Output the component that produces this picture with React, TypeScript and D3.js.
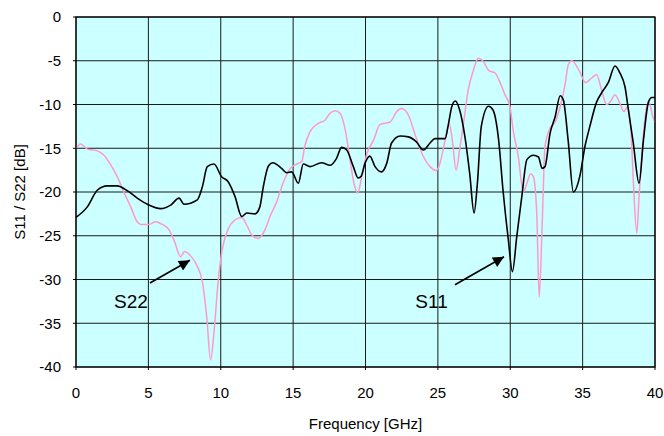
import React from "react"
import * as d3 from "d3"

// S11 (black) trace, frequency in GHz and level in dB
const s11Freq = [0, 0.78, 1.47, 2.16, 2.85, 3.54, 4.23, 4.93, 5.85, 6.54, 7.12, 7.46, 8.38, 8.73, 9.07, 9.53, 10.06, 10.5, 10.98, 11.45, 11.8, 12.37, 12.7, 12.94, 13.3, 13.6, 14.2, 14.56, 14.9, 15.36, 15.7, 16.17, 16.97, 17.55, 18.0, 18.35, 18.7, 19.16, 19.5, 19.7, 19.97, 20.3, 20.66, 21.1, 21.47, 21.8, 22.4, 22.96, 23.5, 24.0, 24.46, 24.8, 25.5, 25.7, 25.96, 26.2, 26.5, 26.87, 27.2, 27.5, 27.73, 28.0, 28.5, 28.8, 29.2, 29.5, 29.87, 30.15, 30.45, 30.8, 31.15, 31.6, 31.95, 32.2, 32.4, 32.75, 33.1, 33.45, 33.67, 34.0, 34.36, 34.8, 35.16, 35.5, 35.97, 36.3, 36.77, 37.24, 37.58, 37.93, 38.16, 38.5, 38.9, 39.2, 39.55, 39.78, 40]
const s11Db = [-22.9, -21.7, -19.8, -19.3, -19.3, -19.85, -20.7, -21.4, -21.9, -21.5, -20.7, -21.4, -20.9, -19.4, -17.1, -16.8, -18.25, -18.8, -20.5, -22.8, -22.4, -22.5, -21.7, -19.4, -17.0, -16.65, -17.3, -17.8, -17.7, -19.0, -16.8, -17.1, -16.65, -16.95, -16.15, -14.9, -15.2, -17.1, -18.4, -18.2, -16.7, -15.9, -17.1, -17.7, -16.7, -14.4, -13.6, -13.7, -14.25, -15.2, -14.4, -13.9, -13.9, -12.5, -10.25, -9.6, -10.6, -13.7, -17.9, -22.4, -19.0, -12.5, -10.2, -10.6, -14.1, -19.8, -25.5, -29.1, -25.1, -20.5, -16.3, -15.8, -16.0, -17.3, -17.1, -13.3, -11.4, -9.0, -9.5, -14.1, -20.0, -18.25, -14.8, -12.5, -9.7, -8.7, -7.5, -5.6, -6.4, -8.0, -10.6, -14.4, -19.0, -14.1, -9.7, -9.2, -9.2]

// S22 (pink) trace
const s22Freq = [0, 0.32, 0.78, 1.47, 1.93, 2.4, 2.85, 3.3, 3.78, 4.23, 4.47, 5.04, 5.5, 5.96, 6.42, 6.77, 7.23, 7.5, 7.92, 8.38, 8.73, 9.03, 9.3, 9.53, 9.81, 10.06, 10.5, 10.98, 11.45, 11.8, 12.14, 12.6, 13.06, 13.4, 13.87, 14.3, 14.8, 15.25, 15.6, 15.8, 16.17, 16.74, 17.2, 17.55, 17.9, 18.24, 18.6, 18.93, 19.2, 19.46, 19.74, 20.1, 20.55, 21.0, 21.7, 22.16, 22.5, 22.96, 23.4, 23.9, 24.46, 24.9, 25.15, 25.5, 25.8, 26.0, 26.26, 26.5, 26.77, 27.1, 27.45, 27.8, 28.15, 28.5, 28.95, 29.3, 29.64, 29.98, 30.2, 30.56, 30.9, 31.15, 31.4, 31.6, 31.83, 32.0, 32.2, 32.4, 32.75, 33.1, 33.45, 33.8, 34.0, 34.25, 34.8, 35.2, 35.6, 35.97, 36.3, 36.66, 36.9, 37.24, 37.58, 37.85, 38.1, 38.35, 38.5, 38.74, 38.9, 39.15, 39.43, 39.6, 39.85, 40]
const s22Db = [-15.0, -14.5, -15.1, -15.3, -15.8, -16.9, -18.25, -20.0, -21.7, -23.4, -23.7, -23.7, -23.4, -23.7, -24.3, -25.5, -27.4, -26.8, -27.3, -28.5, -30.25, -34.25, -39.2, -36.1, -30.4, -27.0, -24.3, -23.2, -22.9, -23.8, -24.9, -25.3, -24.3, -22.8, -21.1, -19.0, -17.3, -16.8, -16.5, -14.8, -13.1, -12.15, -11.8, -11.0, -10.7, -11.0, -12.9, -16.3, -19.0, -20.1, -18.25, -15.6, -14.1, -12.3, -12.0, -10.8, -10.45, -11.2, -13.3, -15.6, -17.1, -17.55, -16.7, -14.1, -12.3, -14.1, -17.5, -15.2, -12.15, -8.3, -6.1, -4.7, -5.1, -6.1, -6.4, -7.5, -8.9, -10.25, -12.9, -16.0, -20.0, -19.0, -17.9, -18.25, -22.4, -32.0, -24.0, -14.8, -12.7, -12.0, -10.25, -7.6, -5.5, -5.0, -6.25, -7.5, -7.0, -6.6, -8.3, -10.0, -9.7, -8.9, -9.9, -10.8, -10.25, -13.3, -18.6, -24.7, -20.5, -14.4, -10.25, -9.8, -11.4, -12.0]

const xTicks = [0, 5, 10, 15, 20, 25, 30, 35, 40]
const yTicks = [0, -5, -10, -15, -20, -25, -30, -35, -40]

// callouts: label position and arrow ends, in GHz / dB
const notes = [
    {label: "S22", lx: 3.8, ly: -33.25, x1: 5.11, y1: -30.4, x2: 7.87, y2: -27.8},
    {label: "S11", lx: 24.56, ly: -33.25, x1: 26.18, y1: -30.6, x2: 29.57, y2: -27.4},
]

const W = 664, H = 436
const margin = {top: 17, right: 9, bottom: 69, left: 76}
const font = "'Liberation Sans', Arial, sans-serif"

export default function App() {
    const width = W - margin.left - margin.right
    const height = H - margin.top - margin.bottom

    const x = d3.scaleLinear().domain([0, 40]).range([0, width])
    const y = d3.scaleLinear().domain([-40, 0]).range([height, 0])

    const line = d3.line<number[]>()
        .x(d => x(d[0]))
        .y(d => y(d[1]))
        .curve(d3.curveMonotoneX)

    const s11 = line(s11Freq.map((f, i) => [f, s11Db[i]]))
    const s22 = line(s22Freq.map((f, i) => [f, s22Db[i]]))

    return (
        <svg width={W} height={H} style={{position: "absolute", left: 0, top: 0, background: "#fff"}}
             fontFamily={font}>
            <defs>
                <marker id="head" viewBox="0 0 10 10" refX="10" refY="5" markerWidth="14" markerHeight="11"
                        markerUnits="userSpaceOnUse" orient="auto">
                    <path d="M0,0 L10,5 L0,10 z" fill="#000" />
                </marker>
            </defs>
            <g transform={`translate(${margin.left},${margin.top})`}>
                <rect x={0} y={0} width={width} height={height} fill="#CCFFFF" />
                {xTicks.map(t => (
                    <line key={"gx" + t} x1={x(t)} x2={x(t)} y1={0} y2={height} stroke="#1a1a1a" strokeWidth={1} />
                ))}
                {yTicks.map(t => (
                    <line key={"gy" + t} x1={0} x2={width} y1={y(t)} y2={y(t)} stroke="#1a1a1a" strokeWidth={1} />
                ))}
                {yTicks.map(t => (
                    <line key={"ty" + t} x1={-3} x2={0} y1={y(t)} y2={y(t)} stroke="#000" />
                ))}
                {xTicks.map(t => (
                    <line key={"tx" + t} x1={x(t)} x2={x(t)} y1={height} y2={height + 3} stroke="#000" />
                ))}
                <path d={s22 || ""} fill="none" stroke="#FF99CC" strokeWidth={1.5} strokeLinejoin="round" />
                <path d={s11 || ""} fill="none" stroke="#000" strokeWidth={1.6} strokeLinejoin="round" />
                <rect x={0} y={0} width={width} height={height} fill="none" stroke="#000" strokeWidth={1.2} />

                {notes.map(n => (
                    <g key={n.label}>
                        <line x1={x(n.x1)} y1={y(n.y1)} x2={x(n.x2)} y2={y(n.y2)} stroke="#000" strokeWidth={1.6}
                              markerEnd="url(#head)" />
                        <text x={x(n.lx)} y={y(n.ly)} textAnchor="middle" fontSize={19}>{n.label}</text>
                    </g>
                ))}

                {yTicks.map(t => (
                    <text key={"ly" + t} x={-15} y={y(t)} dy="0.35em" textAnchor="end" fontSize={15}>{t}</text>
                ))}
                {xTicks.map(t => (
                    <text key={"lx" + t} x={x(t)} y={height + 31} textAnchor="middle" fontSize={15}>{t}</text>
                ))}
                <text x={width / 2} y={height + 62} textAnchor="middle" fontSize={15}>Frequency [GHz]</text>
                <text transform={`translate(${25 - margin.left},${height / 2}) rotate(-90)`} textAnchor="middle"
                      fontSize={15}>S11 / S22 [dB]</text>
            </g>
        </svg>
    )
}
